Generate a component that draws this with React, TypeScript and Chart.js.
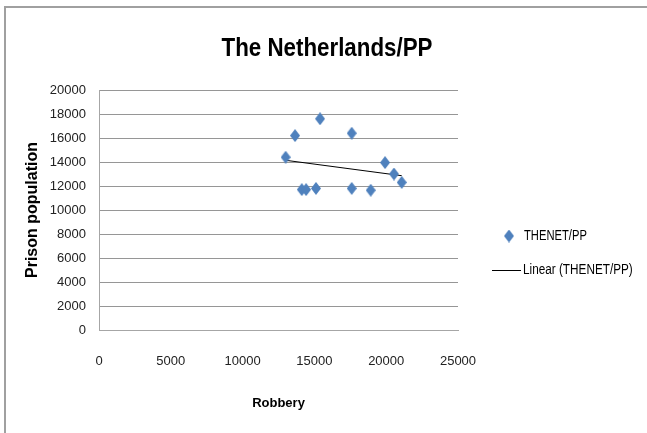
import React, { useEffect, useRef } from "react";
import { Chart, registerables } from "chart.js";

Chart.register(...registerables);

const chartTitle = "The Netherlands/PP";
const xTitle = "Robbery";
const yTitle = "Prison population";
const seriesLabel = "THENET/PP";
const trendLabel = "Linear (THENET/PP)";

const robbery = [13000, 13650, 14120, 14420, 15110, 15390, 17600, 17600, 18920, 19920, 20540, 21080];
const prison = [14400, 16200, 11700, 11700, 11800, 17600, 16400, 11800, 11650, 13950, 13000, 12300];

const xMin = 0, xMax = 25000, xStep = 5000;
const yMin = 0, yMax = 20000, yStep = 2000;

const REG = "'Liberation Sans', Arial, sans-serif";
const BLUE = "#4F81BD";

function makeDiamond(w: number, h: number, color: string) {
  const c = document.createElement("canvas");
  c.width = w;
  c.height = h;
  const ctx = c.getContext("2d")!;
  ctx.beginPath();
  ctx.moveTo(w / 2, 0);
  ctx.lineTo(w, h / 2);
  ctx.lineTo(w / 2, h);
  ctx.lineTo(0, h / 2);
  ctx.closePath();
  ctx.fillStyle = color;
  ctx.fill();
  return c;
}

function regression(xs: number[], ys: number[]) {
  const n = xs.length;
  const mx = xs.reduce((a, b) => a + b, 0) / n;
  const my = ys.reduce((a, b) => a + b, 0) / n;
  let sxy = 0, sxx = 0;
  for (let i = 0; i < n; i++) {
    sxy += (xs[i] - mx) * (ys[i] - my);
    sxx += (xs[i] - mx) * (xs[i] - mx);
  }
  const b = sxy / sxx;
  return { a: my - b * mx, b };
}

function drawScaled(ctx: CanvasRenderingContext2D, text: string, x: number, y: number, font: string, sx: number, align: CanvasTextAlign) {
  ctx.save();
  ctx.font = font;
  ctx.textAlign = align;
  ctx.textBaseline = "middle";
  ctx.translate(x, y);
  ctx.scale(sx, 1);
  ctx.fillText(text, 0, 0);
  ctx.restore();
}

export default function App() {
  const ref = useRef<HTMLCanvasElement | null>(null);

  useEffect(() => {
    if (!ref.current) return;
    const diamond = makeDiamond(10, 13, BLUE);
    const { a, b } = regression(robbery, prison);
    const lo = Math.min(...robbery);
    const hi = Math.max(...robbery);

    const overlay = {
      id: "overlay",
      afterDraw(chart: any) {
        const ctx: CanvasRenderingContext2D = chart.ctx;
        ctx.save();
        ctx.fillStyle = "#000";
        const titleFont = `bold 26px ${REG}`;
        ctx.font = titleFont;
        const tw = ctx.measureText(chartTitle).width;
        drawScaled(ctx, chartTitle, 327, 49, titleFont, 211 / tw, "center");
        // legend
        ctx.drawImage(diamond, 509 - 5, 236 - 6.5);
        const legFont = `14px ${REG}`;
        drawScaled(ctx, chart.data.datasets[0].label, 524, 236, legFont, 0.8, "left");
        ctx.strokeStyle = "#000";
        ctx.lineWidth = 1;
        ctx.beginPath();
        ctx.moveTo(492, 270.5);
        ctx.lineTo(521, 270.5);
        ctx.stroke();
        drawScaled(ctx, chart.data.datasets[1].label, 523, 270, legFont, 0.84, "left");
        ctx.restore();
      },
    };

    const chart = new Chart(ref.current, {
      type: "scatter",
      data: {
        datasets: [
          {
            label: seriesLabel,
            data: robbery.map((x, i) => ({ x, y: prison[i] })),
            pointStyle: diamond as any,
            pointRadius: 6,
            backgroundColor: BLUE,
            borderColor: BLUE,
          },
          {
            label: trendLabel,
            data: [
              { x: lo, y: a + b * lo },
              { x: hi, y: a + b * hi },
            ],
            showLine: true,
            pointRadius: 0,
            borderColor: "#000",
            borderWidth: 1,
          } as any,
        ],
      },
      options: {
        responsive: false,
        animation: false,
        devicePixelRatio: 1,
        layout: { padding: { left: 0, top: 90, right: 189, bottom: 0 } },
        plugins: {
          legend: { display: false },
          title: { display: false },
          tooltip: { enabled: false },
        },
        scales: {
          x: {
            type: "linear",
            min: xMin,
            max: xMax,
            afterFit: (s: any) => {
              s.height = 103;
            },
            ticks: {
              stepSize: xStep,
              padding: 24,
              color: "#222",
              font: { family: REG, size: 13 },
              callback: (v: any) => String(v),
            },
            grid: { display: false, drawTicks: false },
            border: { display: true, color: "#a6a6a6", width: 1 },
            title: {
              display: true,
              text: xTitle,
              color: "#000",
              font: { family: REG, size: 13, weight: "bold" },
              padding: { top: 0, bottom: 22 },
            },
          },
          y: {
            type: "linear",
            min: yMin,
            max: yMax,
            afterFit: (s: any) => {
              s.width = 99;
            },
            ticks: {
              stepSize: yStep,
              padding: 13,
              color: "#222",
              font: { family: REG, size: 13 },
              callback: (v: any) => String(v),
            },
            grid: { color: "#969696", lineWidth: 1, drawTicks: false },
            border: { display: true, color: "#a6a6a6", width: 1 },
            title: {
              display: true,
              text: yTitle,
              color: "#000",
              font: { family: REG, size: 16, weight: "bold" },
              padding: { top: 23, bottom: 0 },
            },
          },
        },
      },
      plugins: [overlay],
    });
    return () => chart.destroy();
  }, []);

  return (
    <div
      style={{
        position: "absolute",
        left: 0,
        top: 0,
        width: 647,
        height: 433,
        overflow: "hidden",
        background: "#fff",
      }}
    >
      <div
        style={{
          position: "absolute",
          left: 4,
          top: 6,
          width: 700,
          height: 500,
          borderLeft: "2px solid #a0a0a0",
          borderTop: "2px solid #a0a0a0",
        }}
      />
      <canvas ref={ref} width={647} height={433} style={{ position: "absolute", left: 0, top: 0, width: 647, height: 433 }} />
    </div>
  );
}
